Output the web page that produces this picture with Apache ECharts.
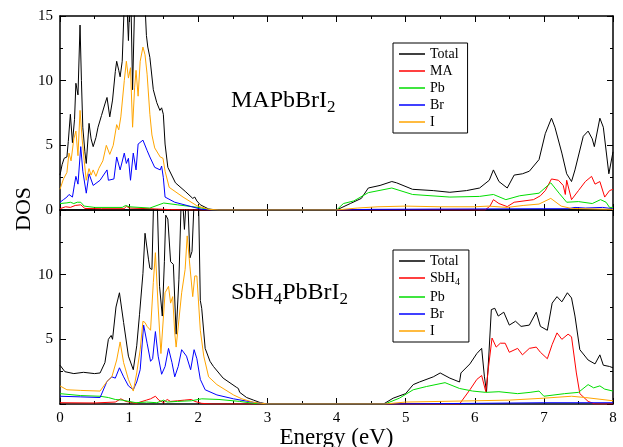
<!DOCTYPE html>
<html>
<head>
<meta charset="utf-8">
<script src="https://cdn.jsdelivr.net/npm/echarts@6/dist/echarts.min.js"></script>
<style>
  html, body { margin: 0; padding: 0; background: #fff; }
  #chart { width: 623px; height: 447px; }
</style>
</head>
<body>
<div id="chart"></div>
<script>
// x ticks / y ticks
var xTicks = [0, 1, 2, 3, 4, 5, 6, 7, 8];
var yTicksTop = [0, 5, 10, 15];
var yTicksBottom = [5, 10];

// 上图 MAPbBrI2 : [能量 eV, DOS]
var topTotal = [[0,2.7],[0.03,3.5],[0.06,4.0],[0.1,4.1],[0.12,5.3],[0.15,7.4],[0.18,5.2],[0.21,7.0],[0.23,9.8],[0.26,8.9],[0.29,14.3],[0.31,10],[0.33,6.4],[0.36,4.5],[0.38,3.6],[0.42,6.7],[0.45,5.5],[0.48,4.9],[0.52,5.6],[0.55,6.4],[0.6,7.3],[0.65,8.2],[0.68,8.7],[0.72,7.2],[0.76,8.5],[0.8,10.7],[0.82,11.5],[0.85,10.8],[0.87,10.3],[0.9,11.5],[0.93,16],[0.96,17],[0.99,13.1],[1.02,18],[1.05,9.3],[1.08,16],[1.1,18],[1.14,17],[1.18,18],[1.22,17],[1.25,13.5],[1.27,12.6],[1.3,11.8],[1.35,9.3],[1.4,8.3],[1.445,7.7],[1.47,7.9],[1.495,7.4],[1.52,5.1],[1.56,3.3],[1.67,2.1],[1.82,1.4],[1.92,0.9],[1.95,1.0],[1.98,0.7],[2.03,0.4],[2.15,0.08],[2.27,0],[4.0,0],[4.2,0.5],[4.36,0.9],[4.46,1.7],[4.63,1.9],[4.8,2.2],[4.87,2.1],[5.1,1.6],[5.4,1.5],[5.64,1.37],[5.88,1.5],[6.07,1.7],[6.21,2.3],[6.27,3.1],[6.35,2.2],[6.47,1.7],[6.57,2.7],[6.69,2.8],[6.79,3.0],[6.93,3.9],[7.02,5.9],[7.11,7.1],[7.16,6.4],[7.26,4.4],[7.33,2.8],[7.4,2.2],[7.45,3.1],[7.57,5.7],[7.64,6.1],[7.7,5.5],[7.73,4.9],[7.81,7.1],[7.86,6.4],[7.94,2.8],[8,4.5]];
var topMA = [[0,0.1],[0.08,0.25],[0.15,0.2],[0.22,0.35],[0.3,0.4],[0.36,0.12],[0.6,0.1],[0.93,0.1],[0.96,0.3],[1.0,0.15],[1.3,0.1],[1.6,0.03],[2.0,0],[6.15,0],[6.22,0.3],[6.27,0.8],[6.35,0.5],[6.47,0.26],[6.57,0.6],[6.85,0.8],[6.95,1.1],[7.02,1.5],[7.11,2.4],[7.21,2.3],[7.28,1.9],[7.31,1.2],[7.33,2.3],[7.4,0.8],[7.5,1.5],[7.6,2.2],[7.69,2.6],[7.74,2.0],[7.81,2.2],[7.88,1.0],[7.95,1.5],[8,1.6]];
var topPb = [[0,0.5],[0.1,0.55],[0.15,0.6],[0.2,0.5],[0.25,0.6],[0.3,0.6],[0.35,0.3],[0.5,0.2],[0.9,0.2],[0.95,0.35],[1.0,0.25],[1.3,0.15],[1.5,0.54],[1.7,0.4],[2.0,0.2],[2.2,0],[4.0,0],[4.1,0.5],[4.25,0.7],[4.46,1.34],[4.8,1.7],[5.1,1.2],[5.64,1.0],[6.07,1.05],[6.27,1.2],[6.45,0.8],[6.65,1.1],[6.93,1.3],[7.1,2.1],[7.22,1.3],[7.33,0.6],[7.5,0.65],[7.7,0.5],[7.82,0.8],[7.9,0.6],[7.95,0.2],[8,0.2]];
var topBr = [[0,0.6],[0.05,0.8],[0.1,1.0],[0.13,1.2],[0.18,1.0],[0.21,2.0],[0.23,2.6],[0.26,2.0],[0.3,4.9],[0.33,3.0],[0.38,1.3],[0.42,2.8],[0.48,1.9],[0.58,2.3],[0.68,3.1],[0.7,2.3],[0.78,2.4],[0.82,4.1],[0.87,3.1],[0.93,4.4],[0.96,3.6],[0.99,4.0],[1.02,2.3],[1.06,4.4],[1.1,3.1],[1.13,5.1],[1.2,5.4],[1.26,4.6],[1.3,4.1],[1.37,3.3],[1.45,3.1],[1.47,3.4],[1.495,2.5],[1.52,1.0],[1.66,0.6],[1.9,0.26],[2.05,0.05],[2.2,0],[4.0,0],[4.5,0.05],[6.0,0.08],[7.0,0.1],[7.35,0.1],[7.45,0.2],[7.6,0.15],[7.85,0.2],[8,0.1]];
var topI = [[0,1.6],[0.05,2.4],[0.1,2.9],[0.13,4.4],[0.16,3.8],[0.2,5.5],[0.23,6.1],[0.26,4.2],[0.29,7.7],[0.32,5.5],[0.35,3.8],[0.38,2.3],[0.42,3.2],[0.45,2.7],[0.48,3.1],[0.52,2.6],[0.56,3.2],[0.62,3.8],[0.67,5.0],[0.72,4.3],[0.77,5.0],[0.82,6.6],[0.85,6.2],[0.88,7.2],[0.93,10.0],[0.96,11.5],[0.99,10.2],[1.02,11.0],[1.05,6.4],[1.08,9.5],[1.1,10.8],[1.13,8.8],[1.16,11.5],[1.2,12.6],[1.23,12.0],[1.26,10.5],[1.3,7.4],[1.33,5.8],[1.37,4.8],[1.45,4.1],[1.49,4.0],[1.52,3.0],[1.58,1.75],[1.78,1.0],[1.98,0.33],[2.15,0.05],[2.3,0],[4.0,0],[4.3,0.15],[4.6,0.25],[5.0,0.3],[5.5,0.25],[6.0,0.25],[6.2,0.3],[6.47,0.2],[6.7,0.35],[6.93,0.46],[7.1,0.9],[7.25,0.3],[7.4,0.12],[8,0.05]];

// 下图 SbH4PbBrI2
var botTotal = [[0,3.0],[0.07,2.5],[0.2,2.35],[0.34,2.45],[0.5,2.35],[0.58,2.4],[0.65,3.2],[0.7,5.0],[0.74,5.3],[0.76,5.0],[0.81,7.5],[0.86,8.6],[0.88,8.7],[0.92,6.3],[0.99,3.7],[1.06,2.65],[1.11,4.5],[1.15,6.9],[1.2,10.1],[1.23,13.2],[1.28,11.2],[1.3,10.5],[1.33,10.4],[1.36,17],[1.4,17],[1.44,9.1],[1.48,6.8],[1.51,11],[1.53,14.6],[1.56,14.3],[1.6,11],[1.64,10.8],[1.68,5.4],[1.72,9.6],[1.76,17],[1.8,13.5],[1.84,17],[1.88,11.3],[1.91,11.8],[1.95,17],[2.0,17],[2.03,8],[2.05,7.4],[2.1,4.3],[2.17,3.3],[2.22,2.9],[2.36,2.0],[2.55,1.3],[2.58,1.2],[2.6,0.9],[2.7,0.5],[2.8,0.3],[2.9,0.1],[3.0,0],[4.68,0],[4.82,0.45],[5.0,0.8],[5.11,1.5],[5.2,1.7],[5.4,2.1],[5.5,2.4],[5.64,2.0],[5.78,1.7],[5.8,2.4],[5.93,3.1],[6.03,3.9],[6.1,4.3],[6.14,2.1],[6.17,0.95],[6.2,3.4],[6.24,7.3],[6.29,7.4],[6.34,6.8],[6.42,7.1],[6.5,6.1],[6.59,6.4],[6.67,6.0],[6.79,6.1],[6.89,7.1],[6.95,6.0],[7.05,5.7],[7.12,7.8],[7.19,8.3],[7.26,7.9],[7.34,8.6],[7.4,8.2],[7.45,6.8],[7.52,4.2],[7.64,3.4],[7.74,3.1],[7.81,3.8],[7.86,3.0],[7.95,2.9],[8,2.8]];
var botSbH4 = [[0,0.1],[0.5,0.08],[0.8,0.15],[0.88,0.4],[0.95,0.2],[1.1,0.05],[1.25,0.3],[1.31,0.4],[1.38,0.6],[1.43,0.3],[1.5,0.1],[1.55,0.35],[1.6,0.2],[1.7,0.25],[1.8,0.3],[1.9,0.35],[1.95,0.2],[2.05,0.05],[2.2,0],[5.78,0],[5.93,1.1],[6.03,1.9],[6.1,2.2],[6.16,0.95],[6.2,2.9],[6.25,5.1],[6.31,4.4],[6.37,4.7],[6.44,4.7],[6.5,4.0],[6.62,4.3],[6.69,3.8],[6.79,4.3],[6.89,4.4],[6.95,4.0],[7.05,3.5],[7.12,4.6],[7.19,5.5],[7.26,5.0],[7.35,5.4],[7.4,5.2],[7.47,2.4],[7.52,0.8],[7.64,0.2],[7.74,0],[8,0]];
var botPb = [[0,0.8],[0.3,0.65],[0.58,0.6],[0.7,0.5],[0.8,0.35],[0.9,0.3],[1.0,0.2],[1.1,0.1],[1.25,0.15],[1.4,0.1],[1.5,0.3],[1.55,0.15],[1.7,0.2],[1.9,0.25],[2.05,0.4],[2.3,0.35],[2.6,0.2],[2.8,0.05],[3.0,0],[4.7,0],[4.91,0.45],[5.11,1.1],[5.3,1.35],[5.57,1.65],[5.78,1.2],[5.97,1.0],[6.16,0.9],[6.35,0.95],[6.62,0.8],[6.8,0.9],[6.93,1.0],[7.0,0.6],[7.3,0.8],[7.5,0.9],[7.64,1.5],[7.72,1.25],[7.81,1.4],[7.88,1.15],[8,1.0]];
var botBr = [[0,0.6],[0.3,0.55],[0.58,0.5],[0.68,1.75],[0.75,2.1],[0.8,2.0],[0.86,2.8],[0.92,2.1],[0.99,1.4],[1.06,1.1],[1.11,1.7],[1.16,2.65],[1.21,6.1],[1.26,4.7],[1.31,3.3],[1.34,3.5],[1.38,5.6],[1.42,3.7],[1.47,2.3],[1.52,2.9],[1.57,4.3],[1.62,3.2],[1.66,2.1],[1.71,2.9],[1.76,4.2],[1.83,3.7],[1.89,2.65],[1.94,4.2],[1.98,3.5],[2.03,1.9],[2.1,1.1],[2.27,0.7],[2.51,0.4],[2.8,0.13],[3.0,0],[4.7,0],[6,0.05],[7,0.1],[8,0.1]];
var botI = [[0,1.4],[0.1,1.1],[0.3,1.05],[0.58,1.0],[0.68,1.75],[0.75,2.1],[0.82,3.4],[0.87,4.8],[0.92,3.2],[0.99,1.9],[1.06,1.0],[1.11,2.4],[1.16,4.2],[1.2,6.4],[1.23,6.3],[1.26,6.0],[1.31,5.7],[1.35,9.4],[1.38,11.7],[1.42,7.5],[1.46,3.9],[1.52,8.6],[1.57,9.1],[1.6,7.8],[1.63,8.3],[1.66,5.5],[1.68,4.4],[1.72,6.5],[1.76,8.6],[1.81,10.4],[1.84,13.0],[1.88,10.6],[1.92,8.3],[1.95,9.9],[1.98,9.9],[2.03,5.7],[2.08,3.7],[2.15,2.1],[2.27,1.5],[2.51,0.7],[2.63,0.4],[2.8,0.13],[3.0,0],[4.7,0],[5.0,0.15],[5.5,0.2],[6.0,0.25],[6.5,0.3],[7.0,0.45],[7.4,0.6],[7.6,0.5],[8,0.25]];

var FONT = 'Liberation Serif';
var colors = { Total: '#000000', MA: '#ff0000', SbH4: '#ff0000', Pb: '#00dd00', Br: '#0000ff', I: '#ffa500' };

var myChart = echarts.init(document.getElementById('chart'));

// 四边都有向内的刻度
function xAx(grid, pos, showLabel) {
    return {
        type: 'value', gridIndex: grid, position: pos, min: 0, max: 8, interval: 1,
        axisLine: { show: true, onZero: false, lineStyle: { color: '#000', width: 1.5 } },
        axisTick: { show: true, inside: true, length: 6, lineStyle: { color: '#000' } },
        minorTick: { show: true, splitNumber: 2, length: 3, lineStyle: { color: '#000' } },
        splitLine: { show: false },
        axisLabel: {
            show: showLabel, color: '#000', fontFamily: FONT, fontSize: 15, margin: 7,
            formatter: function (v) { return xTicks.indexOf(v) >= 0 ? String(v) : ''; }
        },
        name: showLabel ? 'Energy (eV)' : '', nameLocation: 'middle', nameGap: 19,
        nameTextStyle: { color: '#000', fontFamily: FONT, fontSize: 23, verticalAlign: 'top' }
    };
}
function yAx(grid, pos, ticks) {
    return {
        type: 'value', gridIndex: grid, position: pos, min: 0, max: 15, interval: 5,
        axisLine: { show: true, onZero: false, lineStyle: { color: '#000', width: 1.5 } },
        axisTick: { show: true, inside: true, length: 6, lineStyle: { color: '#000' } },
        minorTick: { show: true, splitNumber: 2, length: 3, lineStyle: { color: '#000' } },
        splitLine: { show: false },
        axisLabel: {
            show: ticks != null, color: '#000', fontFamily: FONT, fontSize: 15, margin: 7,
            formatter: function (v) { return ticks && ticks.indexOf(v) >= 0 ? String(v) : ''; }
        }
    };
}

function line(name, data, grid) {
    return {
        name: name, type: 'line', data: data, xAxisIndex: grid * 2, yAxisIndex: grid * 2,
        showSymbol: false, symbol: 'none', clip: true, animation: false,
        lineStyle: { color: colors[name], width: 1 }, itemStyle: { color: colors[name] }
    };
}

var legendBase = {
    orient: 'vertical', left: 393, icon: 'rect', itemWidth: 26, itemHeight: 1.5, itemGap: 3,
    backgroundColor: '#fff', borderColor: '#000', borderWidth: 1, padding: [4, 9, 4, 6],
    selectedMode: false,
    textStyle: { color: '#000', fontFamily: FONT, fontSize: 14,
        rich: { a: { fontFamily: FONT, fontSize: 14 }, s: { fontFamily: FONT, fontSize: 10, padding: [8, 0, 0, 0] } } }
};

var richTitle = {
    b: { fontFamily: FONT, fontSize: 24, fontWeight: 'normal', color: '#000' },
    s: { fontFamily: FONT, fontSize: 17, fontWeight: 'normal', color: '#000', padding: [14, 0, 0, 0] }
};

var option = {
    backgroundColor: '#fff',
    grid: [
        { left: 60, top: 16, width: 553, height: 194, outerBoundsMode: 'none' },
        { left: 60, top: 210, width: 553, height: 194, outerBoundsMode: 'none' }
    ],
    xAxis: [xAx(0, 'bottom', false), xAx(0, 'top', false), xAx(1, 'bottom', true), xAx(1, 'top', false)],
    yAxis: [yAx(0, 'left', yTicksTop), yAx(0, 'right', null), yAx(1, 'left', yTicksBottom), yAx(1, 'right', null)],
    legend: [
        Object.assign({}, legendBase, { top: 43, data: ['Total', 'MA', 'Pb', 'Br', 'I'] }),
        Object.assign({}, legendBase, { top: 250, data: ['Total', 'SbH4', 'Pb', 'Br', 'I'],
            formatter: function (n) { return n === 'SbH4' ? '{a|SbH}{s|4}' : n; } })
    ],
    title: [
        { text: '{b|MAPbBrI}{s|2}', left: 226, top: 80, textStyle: { fontWeight: 'normal', rich: richTitle } },
        { text: '{b|SbH}{s|4}{b|PbBrI}{s|2}', left: 226, top: 272, textStyle: { fontWeight: 'normal', rich: richTitle } }
    ],
    graphic: [
        { type: 'text', left: 13, top: 187, rotation: Math.PI / 2,
          style: { text: 'DOS', fontFamily: FONT, fontSize: 22, fill: '#000' } }
    ],
    series: [
        line('Total', topTotal, 0), line('MA', topMA, 0), line('Pb', topPb, 0), line('Br', topBr, 0), line('I', topI, 0),
        line('Total', botTotal, 1), line('SbH4', botSbH4, 1), line('Pb', botPb, 1), line('Br', botBr, 1), line('I', botI, 1)
    ]
};

myChart.setOption(option);
</script>
</body>
</html>
